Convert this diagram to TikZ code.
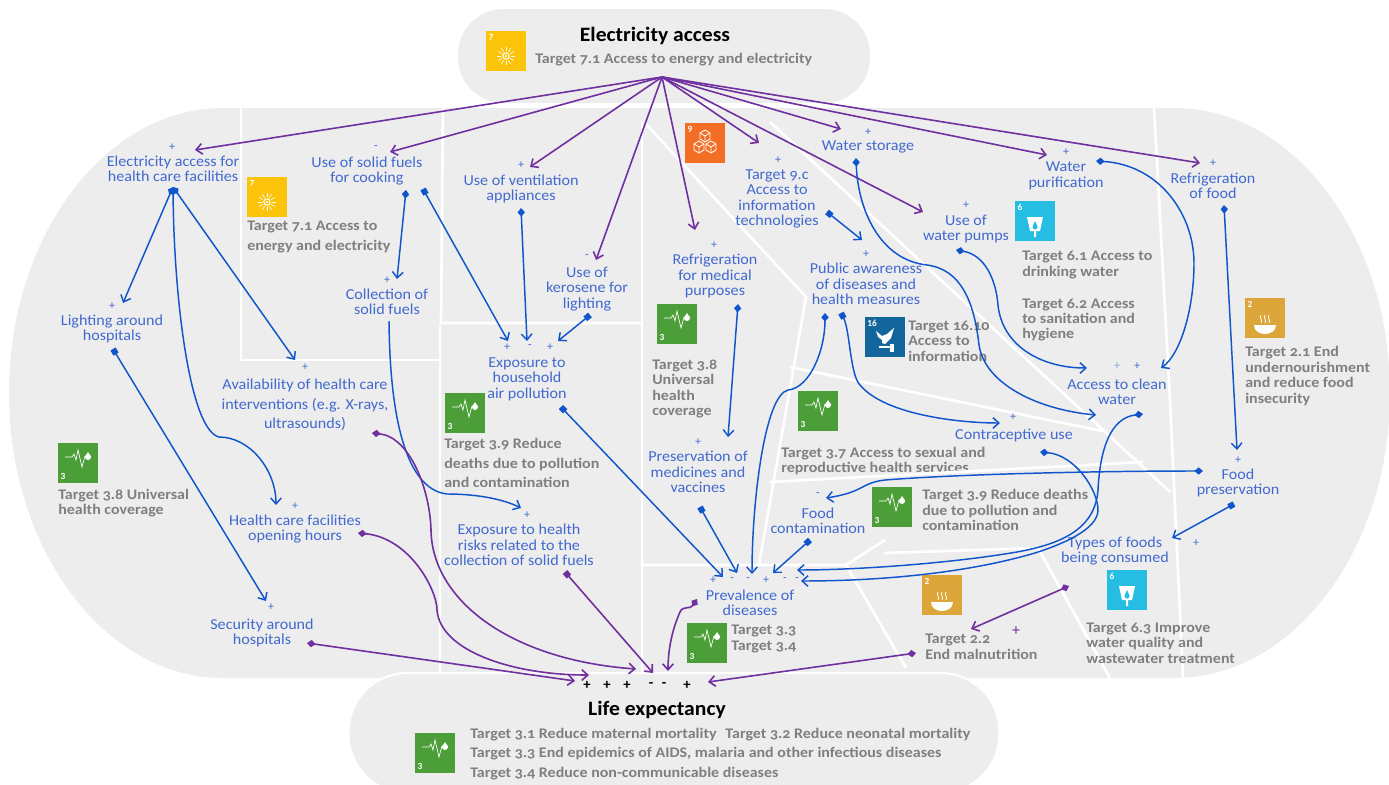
\documentclass[tikz,border=0pt]{standalone}
\usepackage{fontspec}
\setmainfont[Numbers=OldStyle]{Carlito}
\newfontfamily\goalfont[Numbers=Lining]{Carlito}
\newfontfamily\conceptfont[Numbers=OldStyle,FakeStretch=1.06]{Carlito}
\newfontfamily\targetfont[Numbers=OldStyle,FakeStretch=1.09]{Carlito}
\usepackage{tikz}
\usetikzlibrary{arrows.meta}
\definecolor{panelgrey}{HTML}{EDEDED}
\definecolor{conceptblue}{HTML}{4169CF}
\definecolor{linkblue}{HTML}{1155CC}
\definecolor{linkpurple}{HTML}{7030A0}
\definecolor{targetgrey}{HTML}{7F7F7F}
\definecolor{goaltwo}{HTML}{DDA63A}
\definecolor{goalthree}{HTML}{4C9F38}
\definecolor{goalsix}{HTML}{26BDE2}
\definecolor{goalseven}{HTML}{FCC30B}
\definecolor{goalnine}{HTML}{F36D25}
\definecolor{goalsixteen}{HTML}{13669B}
\tikzstyle{blob} = [rectangle, fill=panelgrey, inner sep=0pt]
\tikzstyle{partition} = [white, line width=2pt]
\tikzstyle{concept} = [align=center, text=conceptblue, inner sep=1pt, font=\conceptfont\fontsize{11.4}{11.6}\selectfont]
\tikzstyle{target} = [align=left, anchor=west, text=targetgrey, inner sep=0pt, font=\targetfont\fontsize{11}{11.6}\selectfont\bfseries]
\tikzstyle{title} = [text=black, inner sep=0pt, font=\conceptfont\fontsize{15.3}{16}\selectfont\bfseries]
\tikzstyle{sign} = [text=conceptblue, inner sep=0pt, font=\fontsize{9}{10}\selectfont]
\tikzstyle{lifesign} = [text=black, inner sep=0pt, font=\fontsize{11}{12}\selectfont\bfseries]
\tikzstyle{goal} = [rectangle, minimum size=30pt, inner sep=0pt]
\tikzstyle{bluelink} = [line width=1.1pt, linkblue, arrows={-Straight Barb[length=4.5pt,width=8pt]}]
\tikzstyle{bluearrow} = [line width=1.1pt, linkblue, arrows={Diamond[length=6.5pt,width=5.5pt]-Straight Barb[length=4.5pt,width=8pt]}]
\tikzstyle{bluesquare} = [line width=1.1pt, linkblue, arrows={Square[length=4.5pt,width=4.5pt]-Straight Barb[length=4.5pt,width=8pt]}]
\tikzstyle{purplearrow} = [line width=1.2pt, linkpurple, arrows={Diamond[length=6.5pt,width=5.5pt]-Straight Barb[length=4.5pt,width=8pt]}]
\tikzstyle{purplesquare} = [line width=1.2pt, linkpurple, arrows={Square[length=4.5pt,width=4.5pt]-Straight Barb[length=4.5pt,width=8pt]}]
\tikzstyle{hubarrow} = [line width=1.2pt, linkpurple, arrows={-Straight Barb[length=4.5pt,width=8pt]}]
\tikzset{
  goalnumber/.style={text=white, inner sep=0pt, font=\goalfont\fontsize{7}{7}\selectfont\bfseries},
  sunpic/.pic={
    \node [goalnumber] at (-15,-14) {7};
    \draw [white, line width=0.8pt] (0,5) circle (3.2);
    \fill [white] (0,5) circle (1.2);
    \foreach \a in {0,30,...,330} \draw [white, line width=0.5pt] (0,5) ++(\a:5) -- ++(\a:4);
  },
  pulsepic/.pic={
    \node [goalnumber] at (-15,13) {3};
    \draw [white, line width=0.5pt] (-13,-6) -- (-6,-6) -- (-4,-9) -- (-2,-3) -- (0,-13) -- (4,4) -- (7,-7);
    \fill [white] (10,-6) circle (3);
    \fill [white] (10,-11) -- (13,-6) -- (7,-6) -- cycle;
  },
  cubespic/.pic={
    \node [goalnumber] at (-15,-14) {9};
    \foreach \cx/\cy in {0/-7, -6/4, 6/4} {
      \draw [white, line width=0.6pt] (\cx-5,\cy-3) -- (\cx,\cy-6) -- (\cx+5,\cy-3) -- (\cx+5,\cy+3) -- (\cx,\cy+6) -- (\cx-5,\cy+3) -- cycle;
      \draw [white, line width=0.6pt] (\cx-5,\cy-3) -- (\cx,\cy) -- (\cx+5,\cy-3) (\cx,\cy) -- (\cx,\cy+6);
    }
  },
  droppic/.pic={
    \node [goalnumber] at (-15,-14) {6};
    \fill [white] (-8,-4) -- (8,-4) -- (5,10) -- (1,10) -- (1,16) -- (-1,16) -- (-1,10) -- (-5,10) -- cycle;
    \fill [goalsix] (0,6) circle (2.5);
    \fill [goalsix] (-2.2,5) -- (0,0) -- (2.2,5) -- cycle;
  },
  bowlpic/.pic={
    \node [goalnumber] at (-15,-14) {2};
    \fill [white] (-11,7) .. controls (-11,19) and (11,19) .. (11,7) -- cycle;
    \foreach \sx in {-4,0,4}
      \draw [white, line width=0.6pt] (\sx,-3) .. controls (\sx-2,0) and (\sx+2,2) .. (\sx,5);
  },
  dovepic/.pic={
    \node [goalnumber] at (-13,-14) {16};
    \fill [white] (-9,-6) -- (-3,-1) -- (2,-3) -- (9,-9) -- (6,1) -- (0,7) -- (-3,6) -- (-3,3) -- (-7,0) -- cycle;
    \fill [white] (-6,9) rectangle (6,11);
    \fill [white] (5,7) rectangle (9,15);
  }
}
\begin{document}
\begin{tikzpicture}[x=0.75pt, y=-0.75pt]
    \clip (0,0) rectangle (1389,785);
    \useasboundingbox (0,0) rectangle (1389,785);
    % grey areas
    \fill [panelgrey] (223,108) .. controls (105,108) and (9,236) .. (9,393) .. controls (9,550) and (105,678) .. (223,678) -- (1175,678) .. controls (1293,678) and (1390,550) .. (1390,393) .. controls (1390,236) and (1293,108) .. (1175,108) -- cycle;
    \node (accessblob) [blob, minimum width=309pt, minimum height=70.5pt, rounded corners=34pt] at (664,56) {};
    \node (target37) [target] at (781,461) {Target 3.7 Access to sexual and\\reproductive health services};
    % white lines between the groups
    \draw [partition] (241,108) -- (241,360) -- (440,360);
    \draw [partition] (443,108) -- (441,323) -- (641,323);
    \draw [partition] (440,325) -- (440,676);
    \draw [partition] (642,122) -- (642,676);
    \draw [partition] (642,565) -- (846,565) -- (885,540);
    \draw [partition] (846,565) -- (906,668);
    \draw [partition] (645,123) -- (806,297) -- (759,565);
    \draw [partition] (770,122) -- (1170,492);
    \draw [partition] (790,367) -- (1107,432);
    \draw [partition] (770,482) -- (1143,462);
    \draw [partition] (884,553) -- (1038,548) -- (1110,678);
    \draw [partition] (1154,108) -- (1170,400) -- (1183,678);
    \node (lifeblob) [blob, draw=white, line width=1.5pt, minimum width=488pt, minimum height=90pt, rounded corners=44pt] at (674,733) {};
    % sdg goals
    \node (goaltop) [goal, fill=goalseven] at (506,51) {};
    \pic at (goaltop) {sunpic};
    \node (goalcook) [goal, fill=goalseven] at (267,197) {};
    \pic at (goalcook) {sunpic};
    \node (goalinfo) [goal, fill=goalnine] at (705,143) {};
    \pic at (goalinfo) {cubespic};
    \node (goalpump) [goal, fill=goalsix] at (1035,221) {};
    \pic at (goalpump) {droppic};
    \node (goalhunger) [goal, fill=goaltwo] at (1265,318) {};
    \pic at (goalhunger) {bowlpic};
    \node (goalpeace) [goal, fill=goalsixteen] at (885,337) {};
    \pic at (goalpeace) {dovepic};
    \node (goalmed) [goal, fill=goalthree] at (677,324) {};
    \pic at (goalmed) {pulsepic};
    \node (goalhouse) [goal, fill=goalthree] at (465,413) {};
    \pic at (goalhouse) {pulsepic};
    \node (goalcover) [goal, fill=goalthree] at (78,463) {};
    \pic at (goalcover) {pulsepic};
    \node (goalsexual) [goal, fill=goalthree] at (818,411) {};
    \pic at (goalsexual) {pulsepic};
    \node (goalpoll) [goal, fill=goalthree] at (892,507) {};
    \pic at (goalpoll) {pulsepic};
    \node (goalmalnut) [goal, fill=goaltwo] at (942,595) {};
    \pic at (goalmalnut) {bowlpic};
    \node (goalwaste) [goal, fill=goalsix] at (1127,590) {};
    \pic at (goalwaste) {droppic};
    \node (goalprev) [goal, fill=goalthree] at (707,643) {};
    \pic at (goalprev) {pulsepic};
    \node (goallife) [goal, fill=goalthree] at (435,753) {};
    \pic at (goallife) {pulsepic};
    % titles and targets
    \node (accesstitle) [title] at (655,36) {Electricity access};
    \node (target71) [target] at (535,60) {Target 7.1 Access to energy and electricity};
    \node (cooktarget) [target] at (247,237) {Target 7.1 Access to\\[3pt]energy and electricity};
    \node (covertarget) [target] at (58,503) {Target 3.8 Universal\\health coverage};
    \node (housetarget) [target] at (444,463) {Target 3.9 Reduce\\[3pt]deaths due to pollution\\[3pt]and contamination};
    \node (medtarget) [target] at (652,389) {Target 3.8\\Universal\\health\\coverage};
    \node (target61) [target] at (1022,265) {Target 6.1 Access to\\drinking water};
    \node (target62) [target] at (1022,320) {Target 6.2 Access\\to sanitation and\\hygiene};
    \node (target1610) [target] at (908,341) {Target 16.10\\Access to\\information};
    \node (pollutiontarget) [target] at (922,510) {Target 3.9 Reduce deaths\\due to pollution and\\contamination};
    \node (prevtarget) [target] at (731,639) {Target 3.3\\Target 3.4};
    \node (malnut) [target] at (925,647) {Target 2.2\\End malnutrition};
    \node (target63) [target] at (1086,643) {Target 6.3 Improve\\water quality and\\wastewater treatment};
    \node (target21) [target] at (1245,376) {Target 2.1 End\\undernourishment\\and reduce food\\insecurity};
    \node (lifetitle) [title] at (657,710) {Life expectancy};
    \node (lifetargets) [target] at (470,754) {Target 3.1 Reduce maternal mortality\hspace{0.6em}Target 3.2 Reduce neonatal mortality\\[3pt]Target 3.3 End epidemics of AIDS, malaria and other infectious diseases\\[3pt]Target 3.4 Reduce non-communicable diseases};
    % concepts
    \node (elec) [concept] at (173,169) {Electricity access for\\health care facilities};
    \node (elecsign) [sign] at (172,147) {+};
    \node (solid) [concept] at (367,171) {Use of solid fuels\\for cooking};
    \node (solidsign) [sign] at (376,148) {-};
    \node (vent) [concept] at (521,189) {Use of ventilation\\appliances};
    \node (ventsign) [sign] at (521,165) {+};
    \node (kero) [concept] at (587,289) {Use of\\kerosene for\\lighting};
    \node (kerosign) [sign] at (587,257) {-};
    \node (med) [concept] at (715,276) {Refrigeration\\for medical\\purposes};
    \node (medsign) [sign] at (714,245) {+};
    \node (info) [concept] at (777,199) {Target 9.c\\Access to\\information\\technologies};
    \node (infosign) [sign] at (778,160) {+};
    \node (store) [concept] at (868,147) {Water storage};
    \node (storesign) [sign] at (868,132) {+};
    \node (pure) [concept] at (1066,176) {Water\\purification};
    \node (puresign) [sign] at (1066,152) {+};
    \node (food) [concept] at (1213,186) {Refrigeration\\of food};
    \node (foodsign) [sign] at (1213,163) {+};
    \node (pump) [concept] at (966,229) {Use of\\water pumps};
    \node (pumpsign) [sign] at (966,205) {+};
    \node (public) [concept] at (866,284) {Public awareness\\of diseases and\\health measures};
    \node (publicsign) [sign] at (866,254) {+};
    \node (light) [concept] at (112,329) {Lighting around\\hospitals};
    \node (lightsign) [sign] at (112,306) {+};
    \node (collect) [concept] at (387,302) {Collection of\\solid fuels};
    \node (collectsign) [sign] at (387,280) {+};
    \node (avail) [concept] at (305,405) {Availability of health care\\[3pt]interventions (e.g. X-rays,\\[3pt]ultrasounds)};
    \node (availsign) [sign] at (305,367) {+};
    \node (house) [concept] at (527,379) {Exposure to\\household\\air pollution};
    \node (housesigna) [sign] at (507,347) {+};
    \node (housesignb) [sign] at (530,347) {-};
    \node (housesignc) [sign] at (550,347) {+};
    \node (pres) [concept] at (698,472) {Preservation of\\medicines and\\vaccines};
    \node (pressign) [sign] at (698,442) {+};
    \node (clean) [concept] at (1117,392) {Access to clean\\water};
    \node (cleansigna) [sign, opacity=0.6] at (1117,366) {+};
    \node (cleansignb) [sign] at (1137,366) {+};
    \node (contra) [concept] at (1014,435) {Contraceptive use};
    \node (contrasign) [sign] at (1013,417) {+};
    \node (foodpres) [concept] at (1238,483) {Food\\preservation};
    \node (foodpressign) [sign] at (1238,460) {+};
    \node (contam) [concept] at (818,521) {Food\\contamination};
    \node (contamsign) [sign] at (818,495) {-};
    \node (types) [concept] at (1115,551) {Types of foods\\being consumed};
    \node (typesign) [sign] at (1196,543) {+};
    \node (hours) [concept] at (295,529) {Health care facilities\\opening hours};
    \node (hourssign) [sign] at (295,506) {+};
    \node (risk) [concept] at (519,545) {Exposure to health\\risks related to the\\collection of solid fuels};
    \node (risksign) [sign] at (527,515) {+};
    \node (prev) [concept] at (750,603) {Prevalence of\\diseases};
    \node (prevsigna) [sign] at (713,580) {+};
    \node (prevsignb) [sign] at (732,580) {-};
    \node (prevsignc) [sign] at (748,580) {-};
    \node (prevsignd) [sign] at (766,580) {+};
    \node (prevsigne) [sign] at (785,580) {-};
    \node (prevsignf) [sign] at (797,580) {-};
    \node (security) [concept] at (262,633) {Security around\\hospitals};
    \node (securitysign) [sign] at (271,607) {+};
    \node (malnutsign) [sign, text=linkpurple, font=\fontsize{12}{12}\selectfont] at (1016,631) {+};
    \node (lifesigna) [lifesign] at (587,685) {+};
    \node (lifesignb) [lifesign] at (607,685) {+};
    \node (lifesignc) [lifesign] at (627,685) {+};
    \node (lifesignd) [lifesign] at (651,685) {-};
    \node (lifesigne) [lifesign] at (664,685) {-};
    \node (lifesignf) [lifesign] at (687,685) {+};
    % links leaving electricity access
    \coordinate (hub) at (662,77);
    \draw [hubarrow] (hub) -- ([shift={(23,3)}]elecsign.center);
    \draw [hubarrow] (hub) -- ([shift={(14,4)}]solidsign.center);
    \draw [hubarrow] (hub) -- ([shift={(9,2)}]ventsign.center);
    \draw [hubarrow] (hub) -- ([shift={(9,3)}]kerosign.center);
    \draw [hubarrow] (hub) -- ([shift={(-19,-15)}]medsign.center);
    \draw [hubarrow] (hub) -- ([shift={(-19,-17)}]infosign.center);
    \draw [hubarrow] (hub) -- ([shift={(-27,-3)}]storesign.center);
    \draw [hubarrow] (hub) -- ([shift={(-19,3)}]puresign.center);
    \draw [hubarrow] (hub) -- ([shift={(-13,0)}]foodsign.center);
    \draw [hubarrow] (hub) -- ([shift={(-43,7)}]pumpsign.center);
    % blue links
    \draw [bluearrow] ([shift={(0,18)}]elec.center) -- ([shift={(11,-3)}]lightsign.center);
    \draw [bluearrow] ([shift={(0,18)}]elec.center) -- ([shift={(-10,-7)}]availsign.center);
    \draw [bluearrow] ([shift={(0,18)}]elec.center) .. controls (174,300) and (190,430) .. (219,437) .. controls (250,437) and (276,470) .. ([shift={(-19,-1)}]hourssign.center);
    \draw [bluesquare] ([shift={(1,20)}]light.center) -- ([shift={(-5,-6)}]securitysign.center);
    \draw [bluearrow] ([shift={(39,19)}]solid.center) -- ([shift={(10,-1)}]collectsign.center);
    \draw [bluesquare] ([shift={(56,18)}]solid.center) -- ([shift={(1,-6)}]housesigna.center);
    \draw [bluearrow] ([shift={(0,19)}]vent.center) -- ([shift={(-3,-6)}]housesignb.center);
    \draw [bluesquare] ([shift={(3,26)}]kero.center) -- ([shift={(8,-6)}]housesignc.center);
    \draw [bluelink] ([shift={(2,19)}]collect.center) .. controls (390,430) and (410,490) .. (447,494) .. controls (480,494) and (505,500) .. ([shift={(-6,-7)}]risksign.center);
    \draw [bluesquare] ([shift={(34,28)}]house.center) -- ([shift={(10,-3)}]prevsigna.center);
    \draw [bluearrow] ([shift={(23,28)}]med.center) -- ([shift={(30,-5)}]pressign.center);
    \draw [bluesquare] ([shift={(2,35)}]pres.center) -- ([shift={(5,-7)}]prevsignb.center);
    \draw [bluearrow] ([shift={(-41,29)}]public.center) .. controls (825,350) and (810,388) .. (788,390) .. controls (765,395) and (752,500) .. ([shift={(4,-6)}]prevsignc.center);
    \draw [bluesquare] ([shift={(-25,29)}]public.center) .. controls (850,330) and (850,375) .. (860,385) .. controls (885,415) and (960,423) .. ([shift={(-13,6)}]contrasign.center);
    \draw [bluesquare] ([shift={(50,13)}]info.center) -- ([shift={(-4,-14)}]publicsign.center);
    \draw [bluesquare] ([shift={(-8,19)}]contam.center) -- ([shift={(7,-7)}]prevsignd.center);
    \draw [bluearrow] ([shift={(-12,11)}]store.center) .. controls (858,210) and (880,260) .. (927,265) .. controls (965,270) and (975,310) .. (979,345) .. controls (985,385) and (1040,410) .. ([shift={(-21,23)}]clean.center);
    \draw [bluearrow] ([shift={(-10,21)}]pump.center) .. controls (985,255) and (996,280) .. (998,305) .. controls (1002,345) and (1040,368) .. ([shift={(-30,2)}]cleansigna.center);
    \draw [bluearrow] ([shift={(30,-15)}]pure.center) .. controls (1160,165) and (1194,215) .. (1194,263) .. controls (1194,310) and (1180,355) .. ([shift={(24,2)}]cleansignb.center);
    \draw [bluearrow] ([shift={(11,19)}]food.center) -- ([shift={(-1,-10)}]foodpressign.center);
    \draw [bluearrow] ([shift={(-35,-12)}]foodpres.center) .. controls (1100,471) and (960,474) .. (885,480) .. controls (860,483) and (865,492) .. ([shift={(8,3)}]contamsign.center);
    \draw [bluesquare] ([shift={(-4,21)}]foodpres.center) -- ([shift={(-24,-5)}]typesign.center);
    \draw [bluearrow] ([shift={(26,22)}]clean.center) .. controls (1110,418) and (1100,450) .. (1098,490) .. controls (1095,530) and (1060,545) .. (1011,553) .. controls (950,563) and (860,570) .. ([shift={(12,-10)}]prevsigne.center);
    \draw [bluearrow] ([shift={(26,17)}]contra.center) .. controls (1075,455) and (1098,490) .. (1098,510) .. controls (1098,530) and (1060,545) .. (1035,553) .. controls (960,575) and (870,581) .. ([shift={(4,1)}]prevsignf.center);
    % purple links
    \draw [purplearrow] ([shift={(67,28)}]avail.center) .. controls (410,437) and (430,490) .. (431,530) .. controls (432,600) and (510,660) .. ([shift={(9,-16)}]lifesignc.center);
    \draw [purplearrow] ([shift={(63,4)}]hours.center) .. controls (410,538) and (437,590) .. (437,610) .. controls (440,650) and (510,675) .. ([shift={(-18,-10)}]lifesignb.center);
    \draw [purplearrow] ([shift={(45,10)}]security.center) -- ([shift={(-12,-4)}]lifesigna.center);
    \draw [purplesquare] ([shift={(46,27)}]risk.center) -- ([shift={(2,-12)}]lifesignd.center);
    \draw [purplearrow] ([shift={(-53,-4)}]prev.center) .. controls (690,610) and (683,605) .. (680,612) .. controls (672,630) and (668,650) .. ([shift={(4,-14)}]lifesigne.center);
    \draw [purplearrow] ([shift={(-9,6)}]malnut.west) -- ([shift={(21,-3)}]lifesignf.center);
    \draw [purplearrow] ([shift={(-46,35)}]types.center) -- ([shift={(-45,-2)}]malnutsign.center);
\end{tikzpicture}
\end{document}
